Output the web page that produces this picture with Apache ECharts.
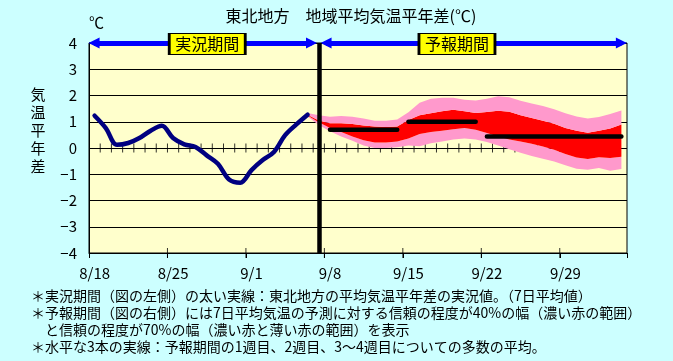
<!DOCTYPE html>
<html><head><meta charset="utf-8">
<script src="https://cdn.jsdelivr.net/npm/echarts@6/dist/echarts.min.js"></script>
<style>html,body{margin:0;padding:0;background:#CCFFFF;}#c{width:673px;height:361px;}</style>
</head><body><div id="c"></div>
<script>
// ---- data ----
const categories = ['8/18','8/19','8/20','8/21','8/22','8/23','8/24','8/25','8/26','8/27','8/28','8/29','8/30','8/31',
  '9/1','9/2','9/3','9/4','9/5','9/6','9/7','9/8','9/9','9/10','9/11','9/12','9/13','9/14',
  '9/15','9/16','9/17','9/18','9/19','9/20','9/21','9/22','9/23','9/24','9/25','9/26','9/27','9/28',
  '9/29','9/30','10/1','10/2','10/3','10/4'];
const yTicks = [-4,-3,-2,-1,0,1,2,3,4];
// observed 7-day mean anomaly, 8/18 .. 9/6
const observed = [1.23,0.76,0.12,0.19,0.38,0.66,0.85,0.38,0.14,0.04,-0.28,-0.6,-1.2,-1.32,-0.84,-0.46,-0.15,0.49,0.9,1.27];
// forecast bands, 9/6 .. 10/4
const forecastStart = '9/6';
const band70High = [1.33,1.25,1.19,1.22,1.19,1.12,1.04,1.04,1.09,1.36,1.72,1.88,1.91,1.91,1.84,1.81,1.88,1.97,1.93,1.80,1.70,1.60,1.48,1.32,1.20,1.12,1.18,1.30,1.43];
const band40High = [1.27,1.05,0.94,0.94,0.91,0.86,0.82,0.80,0.82,1.07,1.25,1.32,1.40,1.46,1.40,1.33,1.37,1.42,1.38,1.25,1.14,1.04,0.92,0.76,0.66,0.58,0.66,0.74,0.90];
const band40Low  = [1.24,0.98,0.76,0.61,0.44,0.30,0.21,0.21,0.25,0.36,0.53,0.61,0.66,0.71,0.76,0.70,0.57,0.44,0.32,0.25,0.16,0.06,-0.07,-0.23,-0.36,-0.42,-0.35,-0.38,-0.33];
const band70Low  = [1.20,0.88,0.64,0.44,0.28,0.10,0.00,0.00,0.03,0.10,0.07,0.18,0.25,0.32,0.36,0.32,0.23,0.10,-0.05,-0.18,-0.30,-0.41,-0.51,-0.66,-0.79,-0.83,-0.76,-0.87,-0.80];
// weekly means: week1, week2, weeks 3-4
const weeklyMeans = [0.7, 1.0, 0.44];
const weeklySpans = [['9/8','9/14'],['9/15','9/21'],['9/22','10/4']];
const dividerDay = '9/7';
const labelEvery = 7;
const periodLabels = ['実況期間','予報期間'];
const titleText = '東北地方　地域平均気温平年差(℃)';
const yName = '気温平年差';
const notes = [
  '＊実況期間（図の左側）の太い実線：東北地方の平均気温平年差の実況値。（7日平均値）',
  '＊予報期間（図の右側）には7日平均気温の予測に対する信頼の程度が40%の幅（濃い赤の範囲）',
  '　と信頼の程度が70%の幅（濃い赤と薄い赤の範囲）を表示',
  '＊水平な3本の実線：予報期間の1週目、2週目、3～4週目についての多数の平均。'
];

// ---- build ----
const s0 = categories.indexOf(forecastStart);
const pad = (arr, start) => categories.map((_, i) => (i >= start && i - start < arr.length) ? arr[i - start] : null);
const diff = (a, b) => a.map((v, i) => +(v - b[i]).toFixed(3));
const FONT = '"Noto Sans CJK JP", sans-serif';
const divIdx = categories.indexOf(dividerDay);
// category boundaries (between day i-1 and day i) on the helper value axis
const dayBoundaries = categories.slice(1).map((_, i) => [i + 0.5, 0]);
const weekBoundaries = categories.map((_, i) => i).filter(i => i > 0 && i % labelEvery === 0).map(i => [i - 0.5, yTicks[0]]);

const weeklySeries = weeklyMeans.map((m, w) => {
  const a = categories.indexOf(weeklySpans[w][0]), b = categories.indexOf(weeklySpans[w][1]);
  return {
    type: 'line', xAxisIndex: 0, yAxisIndex: 0, symbol: 'none', z: 6,
    data: categories.map((_, i) => (i >= a && i <= b) ? m : null),
    lineStyle: { color: '#000', width: 4.5, cap: 'round' }
  };
});

const bandBase = { type: 'line', stack: 'band', stackStrategy: 'all', symbol: 'none', xAxisIndex: 0, yAxisIndex: 0, z: 2, lineStyle: { width: 0, opacity: 0 } };

const option = {
  animation: false,
  backgroundColor: '#CCFFFF',
  textStyle: { fontFamily: FONT },
  grid: { left: 89, top: 43, width: 538, height: 210, show: true, backgroundColor: '#FFFFCC', borderColor: '#000', borderWidth: 1, outerBoundsMode: 'none', containLabel: false },
  xAxis: [
    { type: 'category', data: categories, boundaryGap: true, position: 'bottom',
      axisLine: { onZero: false, lineStyle: { color: '#000', width: 1 } },
      axisTick: { show: true, interval: labelEvery - 1, length: 5, lineStyle: { color: '#000', width: 1 } },
      axisLabel: { show: true, interval: labelEvery - 1, color: '#000', fontSize: 15, margin: 13, fontFamily: FONT },
      splitLine: { show: false } },
    { type: 'value', min: -0.5, max: categories.length - 0.5, show: false }
  ],
  yAxis: [{
    type: 'value', min: yTicks[0], max: yTicks[yTicks.length - 1], interval: 1,
    axisLine: { show: true, onZero: false, lineStyle: { color: '#000', width: 1 } },
    axisTick: { show: false },
    splitLine: { show: true, lineStyle: { color: '#000', width: 1 } },
    axisLabel: { color: '#000', fontSize: 15, margin: 12, fontFamily: FONT, formatter: v => String(v).replace('-', '−') }
  }],
  series: [
    { type: 'scatter', xAxisIndex: 1, yAxisIndex: 0, data: dayBoundaries, symbol: 'rect', symbolSize: [1, 9], silent: true, z: 1,
      itemStyle: { color: '#000' } },
    { type: 'scatter', xAxisIndex: 1, yAxisIndex: 0, data: weekBoundaries, symbol: 'rect', symbolSize: [1, 10], silent: true, z: 1, clip: false,
      itemStyle: { color: '#000' } },
    Object.assign({}, bandBase, { data: pad(band70Low, s0) }),
    Object.assign({}, bandBase, { data: pad(diff(band40Low, band70Low), s0), areaStyle: { color: '#FF99CC', opacity: 1 } }),
    Object.assign({}, bandBase, { data: pad(diff(band40High, band40Low), s0), areaStyle: { color: '#FF0000', opacity: 1 } }),
    Object.assign({}, bandBase, { data: pad(diff(band70High, band40High), s0), areaStyle: { color: '#FF99CC', opacity: 1 } }),
    { type: 'line', xAxisIndex: 0, yAxisIndex: 0, data: pad(observed, 0), smooth: 0.35, symbol: 'none', z: 5,
      lineStyle: { color: '#000080', width: 4.5, cap: 'round', join: 'round' } },
    ...weeklySeries,
    { type: 'line', xAxisIndex: 1, yAxisIndex: 0, data: [], z: 10, symbol: 'none',
      markLine: {
        silent: true, animation: false,
        label: { show: false },
        data: [
          [{ coord: [-0.05, 4], symbol: 'triangle', symbolSize: 11, lineStyle: { color: '#0000FF', width: 5, type: 'solid' } },
           { coord: [19.35, 4], symbol: 'triangle', symbolSize: 11 }],
          [{ coord: [20.65, 4], symbol: 'triangle', symbolSize: 11, lineStyle: { color: '#0000FF', width: 5, type: 'solid' } },
           { coord: [47.0, 4], symbol: 'triangle', symbolSize: 11 }],
          [{ coord: [divIdx, 4], symbol: 'none', lineStyle: { color: '#000', width: 4.5, type: 'solid' } },
           { coord: [divIdx, -4], symbol: 'none' }]
        ],
        itemStyle: { color: '#0000FF' }
      },
      markPoint: {
        silent: true, animation: false,
        symbol: 'rect', symbolSize: [76, 21], symbolOffset: [0, 1],
        itemStyle: { color: '#FFFF00', borderColor: '#000', borderWidth: 1.5 },
        label: { show: true, position: 'inside', color: '#000', fontSize: 16, fontFamily: FONT, formatter: '{b}' },
        data: [
          { name: periodLabels[0], coord: [10.05, 4] },
          { name: periodLabels[1], coord: [32.33, 4] }
        ]
      }
    }
  ],
  graphic: [
    { type: 'text', x: 351, y: 16, style: { text: titleText, font: '16px ' + FONT, fill: '#000', align: 'center', verticalAlign: 'middle' } },
    { type: 'text', x: 89, y: 22, style: { text: '℃', font: '15px ' + FONT, fill: '#000', align: 'left', verticalAlign: 'middle' } },
    { type: 'text', x: 38, y: 130, style: { text: yName.split('').join('\n'), font: '15px ' + FONT, lineHeight: 18, fill: '#000', align: 'center', verticalAlign: 'middle' } },
    ...notes.map((t, i) => ({ type: 'text', x: 31, y: 296 + i * 17, style: { text: t, font: '14px ' + FONT, fill: '#000', align: 'left', verticalAlign: 'middle' } }))
  ]
};
const chart = echarts.init(document.getElementById('c'), null, { renderer: 'canvas' });
chart.setOption(option);
</script></body></html>
